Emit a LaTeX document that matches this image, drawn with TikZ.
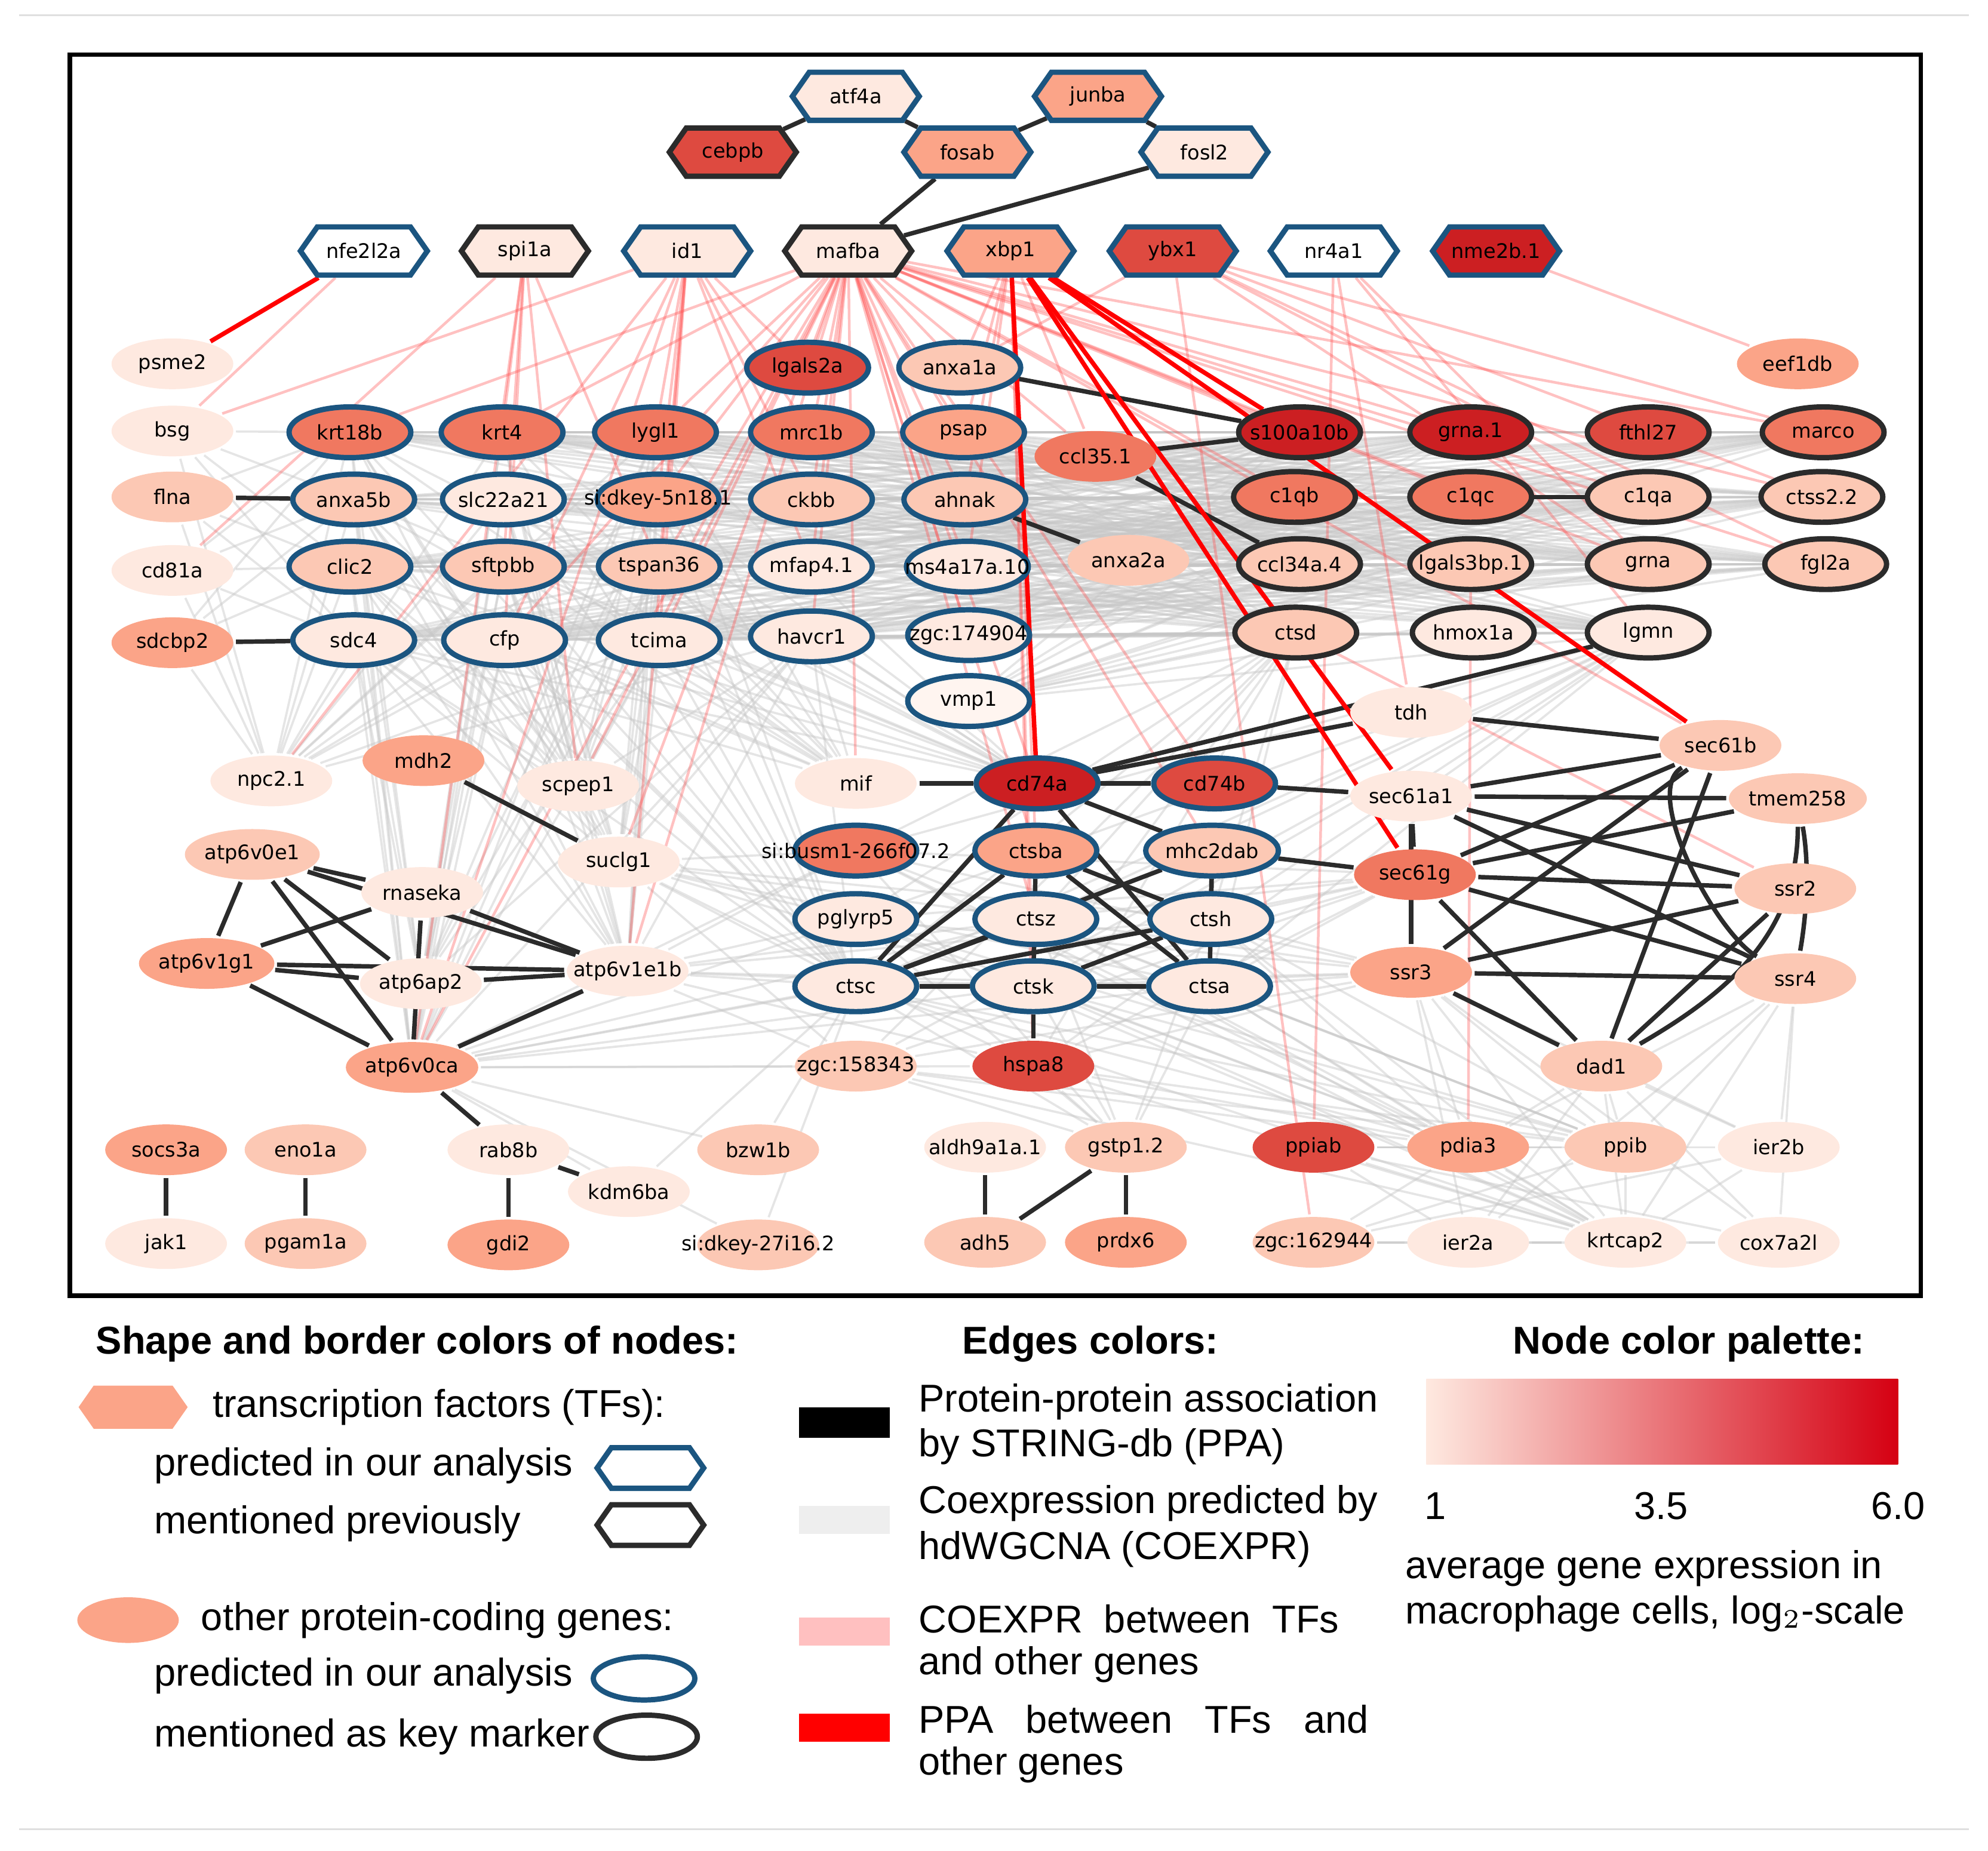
\documentclass[tikz,border=0pt]{standalone}
\usepackage{fontspec}
\newfontfamily\nodefont{DejaVu Sans}
\newfontfamily\legfont{Liberation Sans}
\usetikzlibrary{shapes.symbols,shapes.geometric}
\pgfdeclarelayer{background}\pgfsetlayers{background,main}
\definecolor{c0}{HTML}{FFF5F0}
\definecolor{c1}{HTML}{FEE9E0}
\definecolor{c2}{HTML}{FCC8B4}
\definecolor{c3}{HTML}{FBA488}
\definecolor{c4}{HTML}{F07860}
\definecolor{c5}{HTML}{DE4A40}
\definecolor{c6}{HTML}{CC1F22}
\definecolor{bl}{HTML}{1B5580}
\definecolor{bk}{HTML}{2B2B2B}
\definecolor{pk}{HTML}{FFB0B0}
\definecolor{gmid}{HTML}{FC9272}
\definecolor{ghi}{HTML}{D50012}
\newcommand{\zl}[1]{\makebox[0pt]{#1}}
\tikzset{
 lbl/.style={font=\nodefont\fontsize{4.5}{5}\selectfont,inner sep=0pt},
 tf/.style={lbl,signal,signal to=east and west,signal pointer angle=110,minimum width=1cm,minimum height=0.38cm,line width=1.2pt},
 gn/.style={lbl,ellipse,minimum width=0.96cm,minimum height=0.40cm,line width=1.2pt},
 B/.style={draw=bl}, K/.style={draw=bk},
 ppa/.style={draw=bk,line width=1pt},
 rppa/.style={draw=red,line width=1pt},
 coex/.style={draw=gray!45,line width=0.5pt,opacity=0.45},
 tfco/.style={draw=red!70,line width=0.6pt,opacity=0.35},
 leg/.style={font=\legfont\fontsize{8.7}{10}\selectfont,inner sep=0pt},
 legb/.style={font=\legfont\bfseries\fontsize{8.7}{10}\selectfont,inner sep=0pt},
}
\begin{document}
\begin{tikzpicture}[x=0.01cm,y=-0.01cm]
\useasboundingbox (0,0) rectangle (1568,1460);
\draw[gray!25,line width=0.4pt] (15,12)--(1553,12) (15,1443)--(1553,1443);
\draw[black,line width=1pt] (55,43) rectangle (1515,1022);
% TFs
\node[tf,B,fill=c1] (atf4a) at (675,76) {atf4a};
\node[tf,B,fill=c3] (junba) at (866,76) {junba};
\node[tf,K,fill=c5] (cebpb) at (578,120) {cebpb};
\node[tf,B,fill=c3] (fosab) at (763,120) {fosab};
\node[tf,B,fill=c1] (fosl2) at (950,120) {fosl2};
\node[tf,B,fill=white] (nfe2l2a) at (287,198) {nfe2l2a};
\node[tf,K,fill=c1] (spi1a) at (414,198) {spi1a};
\node[tf,B,fill=c1] (id1) at (542,198) {id1};
\node[tf,K,fill=c1] (mafba) at (669,198) {mafba};
\node[tf,B,fill=c3] (xbp1) at (797,198) {xbp1};
\node[tf,B,fill=c5] (ybx1) at (925,198) {ybx1};
\node[tf,B,fill=white] (nr4a1) at (1052,198) {nr4a1};
\node[tf,B,fill=c6] (nme2b1) at (1180,198) {nme2b.1};
% genes
\node[gn,fill=c1] (psme2) at (136,287) {psme2};
\node[gn,fill=c1] (bsg) at (136,340) {bsg};
\node[gn,fill=c2] (flna) at (136,392) {flna};
\node[gn,fill=c1] (cd81a) at (136,450) {cd81a};
\node[gn,fill=c3] (sdcbp2) at (136,507) {sdcbp2};
\node[gn,B,fill=c4] (krt18b) at (276,341) {krt18b};
\node[gn,B,fill=c4] (krt4) at (396,341) {krt4};
\node[gn,B,fill=c4] (lygl1) at (517,341) {lygl1};
\node[gn,B,fill=c5] (lgals2a) at (637,290) {lgals2a};
\node[gn,B,fill=c4] (mrc1b) at (640,341) {mrc1b};
\node[gn,B,fill=c2] (anxa1a) at (757,290) {anxa1a};
\node[gn,B,fill=c3] (psap) at (760,341) {psap};
\node[gn,fill=c4] (ccl35) at (864,360) {ccl35.1};
\node[gn,K,fill=c6] (s100a10b) at (1025,341) {\zl{s100a10b}};
\node[gn,K,fill=c6] (grna1) at (1160,341) {grna.1};
\node[gn,K,fill=c5] (fthl27) at (1300,341) {fthl27};
\node[gn,K,fill=c4] (marco) at (1438,341) {marco};
\node[gn,fill=c3] (eef1db) at (1418,287) {eef1db};
\node[gn,B,fill=c2] (anxa5b) at (279,394) {anxa5b};
\node[gn,B,fill=c1] (slc22a21) at (397,394) {\zl{slc22a21}};
\node[gn,B,fill=c3] (sidkey5) at (519,394) {\zl{si:dkey-5n18.1}};
\node[gn,B,fill=c2] (ckbb) at (640,394) {ckbb};
\node[gn,B,fill=c2] (ahnak) at (761,394) {ahnak};
\node[gn,K,fill=c4] (c1qb) at (1021,392) {c1qb};
\node[gn,K,fill=c4] (c1qc) at (1160,392) {c1qc};
\node[gn,K,fill=c2] (c1qa) at (1300,392) {c1qa};
\node[gn,K,fill=c2] (ctss22) at (1437,392) {ctss2.2};
\node[gn,B,fill=c2] (clic2) at (276,447) {clic2};
\node[gn,B,fill=c2] (sftpbb) at (397,447) {sftpbb};
\node[gn,B,fill=c2] (tspan36) at (520,447) {tspan36};
\node[gn,B,fill=c1] (mfap41) at (640,447) {mfap4.1};
\node[gn,B,fill=c1] (ms4a) at (763,447) {\zl{ms4a17a.10}};
\node[gn,fill=c2] (anxa2a) at (890,442) {anxa2a};
\node[gn,K,fill=c2] (ccl34) at (1025,445) {ccl34a.4};
\node[gn,K,fill=c2] (lgals3bp) at (1160,445) {\zl{lgals3bp.1}};
\node[gn,K,fill=c2] (grna) at (1300,445) {grna};
\node[gn,K,fill=c2] (fgl2a) at (1440,445) {fgl2a};
\node[gn,B,fill=c1] (sdc4) at (279,505) {sdc4};
\node[gn,B,fill=c1] (cfp) at (398,505) {cfp};
\node[gn,B,fill=c1] (tcima) at (520,505) {tcima};
\node[gn,B,fill=c1] (havcr1) at (640,502) {havcr1};
\node[gn,B,fill=c1] (zgc174904) at (764,501) {\zl{zgc:174904}};
\node[gn,B,fill=c0] (vmp1) at (764,553) {vmp1};
\node[gn,K,fill=c2] (ctsd) at (1022,499) {ctsd};
\node[gn,K,fill=c1] (hmox1a) at (1162,499) {hmox1a};
\node[gn,K,fill=c1] (lgmn) at (1300,499) {lgmn};
\node[gn,fill=c1] (tdh) at (1113,562) {tdh};
\node[gn,fill=c2] (sec61b) at (1357,588) {sec61b};
\node[gn,fill=c1] (sec61a1) at (1113,628) {sec61a1};
\node[gn,fill=c2] (tmem258) at (1418,630) {tmem258};
\node[gn,fill=c4] (sec61g) at (1116,690) {sec61g};
\node[gn,fill=c2] (ssr2) at (1416,701) {ssr2};
\node[gn,fill=c3] (ssr3) at (1113,767) {ssr3};
\node[gn,fill=c2] (ssr4) at (1416,772) {ssr4};
\node[gn,fill=c2] (dad1) at (1263,841) {dad1};
\node[gn,fill=c1] (npc21) at (214,616) {npc2.1};
\node[gn,fill=c3] (mdh2) at (334,600) {mdh2};
\node[gn,fill=c1] (scpep1) at (456,620) {scpep1};
\node[gn,fill=c1] (mif) at (675,618) {mif};
\node[gn,B,fill=c6] (cd74a) at (818,618) {cd74a};
\node[gn,B,fill=c5] (cd74b) at (958,618) {cd74b};
\node[gn,fill=c1] (suclg1) at (488,680) {suclg1};
\node[gn,fill=c2] (atp6v0e1) at (199,674) {atp6v0e1};
\node[gn,fill=c1] (rnaseka) at (333,704) {rnaseka};
\node[gn,fill=c3] (atp6v1g1) at (163,760) {atp6v1g1};
\node[gn,fill=c1] (atp6ap2) at (332,776) {atp6ap2};
\node[gn,fill=c1] (atp6v1e1b) at (495,766) {\zl{atp6v1e1b}};
\node[gn,fill=c3] (atp6v0ca) at (325,842) {atp6v0ca};
\node[gn,B,fill=c4] (sibusm) at (675,671) {\zl{si:busm1-266f07.2}};
\node[gn,B,fill=c3] (ctsba) at (817,671) {ctsba};
\node[gn,B,fill=c2] (mhc2dab) at (956,671) {mhc2dab};
\node[gn,B,fill=c1] (pglyrp5) at (675,725) {pglyrp5};
\node[gn,B,fill=c1] (ctsz) at (817,725) {ctsz};
\node[gn,B,fill=c1] (ctsh) at (955,725) {ctsh};
\node[gn,B,fill=c1] (ctsc) at (675,778) {ctsc};
\node[gn,B,fill=c1] (ctsk) at (815,778) {ctsk};
\node[gn,B,fill=c1] (ctsa) at (954,778) {ctsa};
\node[gn,fill=c2] (zgc158343) at (675,841) {\zl{zgc:158343}};
\node[gn,fill=c5] (hspa8) at (815,841) {hspa8};
\node[gn,fill=c3] (socs3a) at (131,907) {socs3a};
\node[gn,fill=c2] (eno1a) at (241,907) {eno1a};
\node[gn,fill=c1] (jak1) at (131,981) {jak1};
\node[gn,fill=c2] (pgam1a) at (241,981) {pgam1a};
\node[gn,fill=c1] (rab8b) at (401,907) {rab8b};
\node[gn,fill=c1] (kdm6ba) at (496,940) {kdm6ba};
\node[gn,fill=c3] (gdi2) at (401,982) {gdi2};
\node[gn,fill=c2] (bzw1b) at (598,907) {bzw1b};
\node[gn,fill=c2] (sidkey27) at (598,982) {\zl{si:dkey-27i16.2}};
\node[gn,fill=c1] (aldh) at (777,905) {\zl{aldh9a1a.1}};
\node[gn,fill=c2] (gstp12) at (888,905) {gstp1.2};
\node[gn,fill=c2] (adh5) at (777,980) {adh5};
\node[gn,fill=c3] (prdx6) at (888,980) {prdx6};
\node[gn,fill=c5] (ppiab) at (1036,905) {ppiab};
\node[gn,fill=c3] (pdia3) at (1158,905) {pdia3};
\node[gn,fill=c2] (ppib) at (1282,905) {ppib};
\node[gn,fill=c1] (ier2b) at (1403,905) {ier2b};
\node[gn,fill=c2] (zgc162944) at (1036,980) {\zl{zgc:162944}};
\node[gn,fill=c1] (ier2a) at (1158,980) {ier2a};
\node[gn,fill=c1] (krtcap2) at (1282,980) {krtcap2};
\node[gn,fill=c1] (cox7a2l) at (1403,980) {cox7a2l};
\begin{pgfonlayer}{background}
% coexpression gray
\foreach \a in {krt18b,krt4,lygl1,mrc1b,psap,anxa5b,slc22a21,sidkey5,ckbb,ahnak,clic2,sftpbb,tspan36,mfap41,ms4a,sdc4,cfp,tcima,havcr1,zgc174904,vmp1}
 \foreach \b in {s100a10b,c1qb,c1qc,c1qa,ctss22,grna1,marco,ccl34,lgals3bp,grna,fgl2a,ctsd,lgmn}
  \path[coex] (\a)--(\b);
\foreach \a in {krt18b,krt4,lygl1,anxa5b,slc22a21,sidkey5,clic2,sftpbb,tspan36,sdc4,cfp,tcima,havcr1}
 \foreach \b in {atp6v0ca,atp6v1e1b,atp6ap2,npc21,scpep1,suclg1,ctsc,cd74a,mif}
  \path[coex] (\a)--(\b);
\foreach \a in {bsg,flna,cd81a,sdcbp2}
 \foreach \b in {anxa5b,clic2,sdc4,npc21,krt18b}
  \path[coex] (\a)--(\b);
\foreach \a in {ctsc,ctsk,ctsa,ctsz,ctsh,pglyrp5,sibusm,zgc158343,hspa8}
 \foreach \b in {atp6v0ca,atp6v1e1b,suclg1,lgmn,ctsd,sec61g,ssr3,ppib,pdia3,gstp12,krtcap2}
  \path[coex] (\a)--(\b);
\foreach \a in {ppib,krtcap2,cox7a2l,ier2b,ier2a,pdia3}
 \foreach \b in {dad1,ssr3,ssr4,zgc162944,ppiab,krtcap2}
  \path[coex] (\a)--(\b);
\foreach \a in {bzw1b,sidkey27,kdm6ba}
 \path[coex] (\a)--(atp6v0ca) (\a)--(ctsc);
% TF coexpression pink
\foreach \b in {lgals2a,mrc1b,psap,anxa1a,ckbb,ahnak,lygl1,krt4,tspan36,mfap41,ms4a,havcr1,tcima,cfp,zgc174904,cd74a,ctsba,atp6v0ca,atp6v1e1b,scpep1,suclg1,c1qb,c1qc,ctss22,fgl2a,marco,grna1,ccl35,s100a10b,sec61b,mif,mhc2dab,sidkey5,krt18b,cd74b,ctsz,c1qa,grna}
 \path[tfco] (mafba)--(\b);
\foreach \b in {lygl1,sidkey5,tspan36,tcima,atp6v0ca,atp6v1e1b,npc21,ckbb,mrc1b,lgals2a,bsg,mfap41,cfp}
 \path[tfco] (id1)--(\b);
\foreach \b in {krt4,sftpbb,cfp,atp6v0ca,scpep1,tspan36,cd81a}
 \path[tfco] (spi1a)--(\b);
\foreach \b in {ahnak,anxa1a,psap,ccl35,hspa8,ms4a,ctsba,ctsk}
 \path[tfco] (xbp1)--(\b);
\foreach \b in {ctss22,c1qa,fgl2a,grna,marco,zgc162944,anxa1a}
 \path[tfco] (ybx1)--(\b);
\foreach \b in {ppiab,tdh,lgmn,grna}
 \path[tfco] (nr4a1)--(\b);
\path[tfco] (nme2b1)--(eef1db);
\path[tfco] (lgals3bp)--(pdia3) (ctsd)--(ssr2) (bsg)--(nfe2l2a);
% PPA black
\foreach \a/\b in {atf4a/cebpb,atf4a/fosab,junba/fosab,junba/fosl2,fosab/mafba,fosl2/mafba,
 flna/anxa5b,sdcbp2/sdc4,anxa1a/s100a10b,ccl35/s100a10b,ccl35/ccl34,ahnak/anxa2a,c1qc/c1qa,
 mdh2/suclg1,atp6v0e1/rnaseka,atp6v0e1/atp6v1g1,atp6v0e1/atp6ap2,atp6v0e1/atp6v1e1b,atp6v0e1/atp6v0ca,
 rnaseka/atp6v1g1,rnaseka/atp6v1e1b,rnaseka/atp6v0ca,atp6v1g1/atp6ap2,atp6v1g1/atp6v1e1b,atp6v1g1/atp6v0ca,
 atp6ap2/atp6v1e1b,atp6v0ca/atp6v1e1b,atp6v0ca/rab8b,rab8b/kdm6ba,rab8b/gdi2,socs3a/jak1,eno1a/pgam1a,
 aldh/adh5,gstp12/adh5,gstp12/prdx6,mif/cd74a,cd74a/cd74b,cd74a/tdh,cd74a/lgmn,cd74a/mhc2dab,cd74a/ctsc,
 cd74a/ctsa,cd74b/sec61a1,mhc2dab/sec61g,ctsba/ctsc,ctsba/ctsk,ctsba/ctsh,ctsba/ctsa,ctsz/ctsc,mhc2dab/ctsh,
 mhc2dab/ctsc,ctsh/ctsc,ctsc/ctsk,ctsk/ctsa,ctsk/hspa8,ctsh/ctsk,mhc2dab/ctsa,
 tdh/sec61b,sec61b/sec61a1,sec61b/sec61g,sec61b/ssr3,sec61a1/tmem258,sec61a1/ssr2,sec61a1/ssr4,sec61a1/sec61g,
 sec61a1/ssr3,sec61g/ssr2,sec61g/ssr4,sec61g/dad1,sec61g/tmem258,ssr3/ssr4,ssr3/ssr2,ssr3/dad1,ssr2/dad1,sec61b/dad1}
 \path[ppa] (\a)--(\b);
\draw[ppa] (sec61b) to[out=-150,in=150,looseness=0.6] (ssr4);
\draw[ppa] (tmem258) to[out=-80,in=80,looseness=0.8] (ssr4);
\draw[ppa] (tmem258) to[out=-90,in=30] (dad1);
% PPA red
\path[rppa] (nfe2l2a)--(psme2);
\foreach \b in {cd74a,s100a10b,sec61g,sec61a1,sec61b} \path[rppa] (xbp1)--(\b);
\end{pgfonlayer}
% legend
\node[legb] at (329,1060) {Shape and border colors of nodes:};
\node[signal,signal to=east and west,signal pointer angle=110,fill=c3,minimum width=0.86cm,minimum height=0.34cm,inner sep=0] (lh0) at (105,1110) {};
\node[leg,anchor=west] (lt0) at (167,1110) {transcription factors (TFs):};
\node[leg,anchor=west] (lt1) at (121,1156) {predicted in our analysis};
\node[signal,signal to=east and west,signal pointer angle=110,draw=bl,line width=1.2pt,minimum width=0.84cm,minimum height=0.32cm,inner sep=0] (lh1) at (513,1158) {};
\node[leg,anchor=west] (lt2) at (121,1202) {mentioned previously};
\node[signal,signal to=east and west,signal pointer angle=110,draw=bk,line width=1.2pt,minimum width=0.84cm,minimum height=0.32cm,inner sep=0] (lh2) at (513,1203) {};
\node[ellipse,fill=c3,minimum width=0.80cm,minimum height=0.36cm,inner sep=0] (le0) at (101,1278) {};
\node[leg,anchor=west] (lt3) at (158,1278) {other protein-coding genes:};
\node[leg,anchor=west] (lt4) at (121,1322) {predicted in our analysis};
\node[ellipse,draw=bl,line width=1.2pt,minimum width=0.80cm,minimum height=0.34cm,inner sep=0] (le1) at (508,1324) {};
\node[leg,anchor=west] (lt5) at (121,1370) {mentioned as key marker};
\node[ellipse,draw=bk,line width=1.2pt,minimum width=0.80cm,minimum height=0.34cm,inner sep=0] (le2) at (510,1370) {};
\node[legb] at (860,1060) {Edges colors:};
\fill[black] (630,1110) rectangle (702,1134);
\fill[gray!13] (630,1188) rectangle (702,1210);
\fill[pk!80] (630,1276) rectangle (702,1298);
\fill[red] (630,1352) rectangle (702,1374);
\node[leg,anchor=west] at (724,1106) {Protein-protein association};
\node[leg,anchor=west] at (724,1141) {by STRING-db (PPA)};
\node[leg,anchor=west] at (724,1186) {Coexpression predicted by};
\node[leg,anchor=west] at (724,1222) {hdWGCNA (COEXPR)};
\node[leg,anchor=west] at (724,1277) {COEXPR\ \ between\ \ TFs};
\node[leg,anchor=west] at (724,1313) {and other genes};
\node[leg,anchor=west] at (724,1356) {PPA\ \ \ between\ \ \ TFs\ \ \ and};
\node[leg,anchor=west] at (724,1392) {other genes};
\node[legb] at (1332,1060) {Node color palette:};
\shade[left color=c1,middle color=gmid,right color=ghi] (1125,1088) rectangle (1497,1155);
\node[leg] at (1132,1188) {1};
\node[leg] at (1310,1188) {3.5};
\node[leg] at (1497,1188) {6.0};
\node[leg,anchor=west] at (1108,1237) {average gene expression in};
\node[leg,anchor=west] at (1108,1273) {macrophage cells, log$_2$-scale};
\end{tikzpicture}
\end{document}
